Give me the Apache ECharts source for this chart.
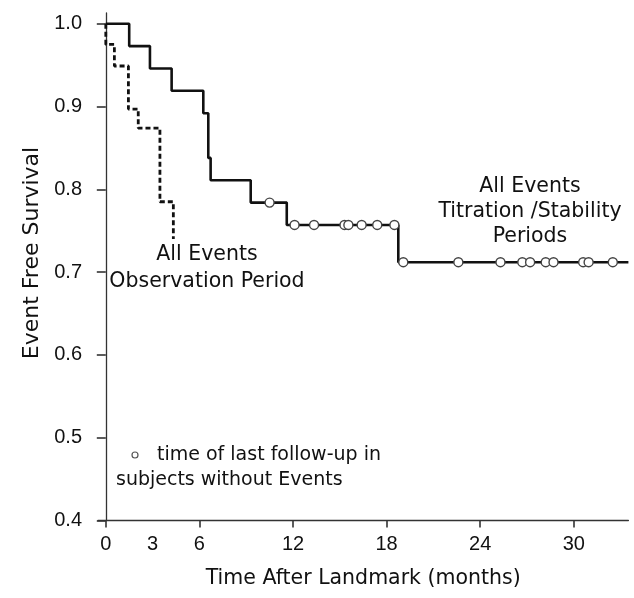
<!DOCTYPE html>
<html>
<head>
<meta charset="utf-8">
<script src="https://cdn.jsdelivr.net/npm/echarts@6/dist/echarts.min.js"></script>
<style>
  html, body { margin: 0; padding: 0; background: #fff; }
  #chart { width: 634px; height: 598px; }
</style>
</head>
<body>
<div id="chart"></div>
<script>
// Kaplan-Meier step data: [time (months), survival after the event]
const titrationSteps = [
  [0, 1.0], [1.5, 0.973], [2.83, 0.946], [4.22, 0.919], [6.25, 0.892],
  [6.57, 0.838], [6.72, 0.811], [9.29, 0.784], [11.6, 0.757],
  [18.75, 0.712], [33.5, 0.712]
];
const observationSteps = [
  [0, 1.0], [0, 0.975], [0.55, 0.949], [1.45, 0.897], [2.08, 0.874],
  [3.47, 0.785], [4.33, 0.74]
];
// censored subjects (last follow-up without event)
const censored = [
  [10.5, 0.784],
  [12.1, 0.757], [13.35, 0.757], [15.3, 0.757], [15.55, 0.757],
  [16.4, 0.757], [17.4, 0.757], [18.5, 0.757],
  [19.07, 0.712], [22.6, 0.712], [25.3, 0.712], [26.7, 0.712], [27.2, 0.712],
  [28.2, 0.712], [28.7, 0.712], [30.6, 0.712], [30.95, 0.712], [32.5, 0.712]
];
const xTickLabels = [0, 3, 6, 12, 18, 24, 30];
const xTicks = [0, 6, 12, 18, 24, 30];
const yTicks = [0.4, 0.5, 0.6, 0.7, 0.8, 0.9, 1.0];

const textFont = '"DejaVu Sans", sans-serif';
const numFont = '"Liberation Sans", Arial, sans-serif';
const ink = '#111';

function label(text, x, y, align, size) {
  return {
    type: 'text',
    style: { text, x, y, align, verticalAlign: 'middle', font: size + 'px ' + textFont, fill: ink }
  };
}

const chart = echarts.init(document.getElementById('chart'));
chart.setOption({
  animation: false,
  backgroundColor: '#fff',
  grid: { left: 98, right: 5.6, top: 13, bottom: 77.5 },
  xAxis: {
    type: 'value',
    min: -0.5,
    max: 33.5,
    name: 'Time After Landmark (months)',
    nameLocation: 'middle',
    nameGap: 48,
    nameTextStyle: { fontFamily: textFont, fontSize: 20.5, color: ink },
    axisLine: { lineStyle: { color: '#333', width: 1.3 } },
    axisTick: { show: true, length: 7, customValues: xTicks, lineStyle: { color: '#333', width: 1.6 } },
    axisLabel: { customValues: xTickLabels, margin: 14, fontFamily: numFont, fontSize: 20, color: ink },
    splitLine: { show: false }
  },
  yAxis: {
    type: 'value',
    min: 0.4,
    max: 1.013,
    axisLine: { show: true, lineStyle: { color: '#333', width: 1.3 } },
    axisTick: { show: true, length: 9, customValues: yTicks, lineStyle: { color: '#333', width: 1.6 } },
    axisLabel: {
      customValues: yTicks,
      margin: 16,
      fontFamily: numFont, fontSize: 20, color: ink,
      formatter: v => v.toFixed(1)
    },
    splitLine: { show: false }
  },
  series: [
    {
      name: 'Titration / Stability',
      type: 'line',
      step: 'end',
      data: titrationSteps,
      showSymbol: false,
      lineStyle: { color: '#111', width: 2.6 },
      z: 2
    },
    {
      name: 'Observation',
      type: 'line',
      step: 'end',
      data: observationSteps,
      showSymbol: false,
      lineStyle: { color: '#111', width: 2.8, type: [5, 3] },
      z: 2
    },
    {
      name: 'Censored',
      type: 'scatter',
      data: censored,
      symbol: 'circle',
      symbolSize: 9,
      itemStyle: { color: '#fff', opacity: 1, borderColor: '#444', borderWidth: 1.4 },
      z: 3
    }
  ],
  graphic: [
    {
      type: 'text',
      x: 32, y: 253, rotation: Math.PI / 2,
      style: { text: 'Event Free Survival', align: 'center', verticalAlign: 'middle', font: '22px ' + textFont, fill: ink }
    },
    label('All Events', 207, 255, 'center', 20.5),
    label('Observation Period', 207, 282, 'center', 20.5),
    label('All Events', 530, 187, 'center', 20.5),
    label('Titration /Stability', 530, 212, 'center', 20.5),
    label('Periods', 530, 237, 'center', 20.5),
    { type: 'circle', shape: { cx: 135, cy: 455, r: 3 }, style: { fill: '#fff', stroke: '#555', lineWidth: 1.2 } },
    label('time of last follow-up in', 157, 455, 'left', 19),
    label('subjects without Events', 116, 480.5, 'left', 19)
  ]
});
</script>
</body>
</html>
